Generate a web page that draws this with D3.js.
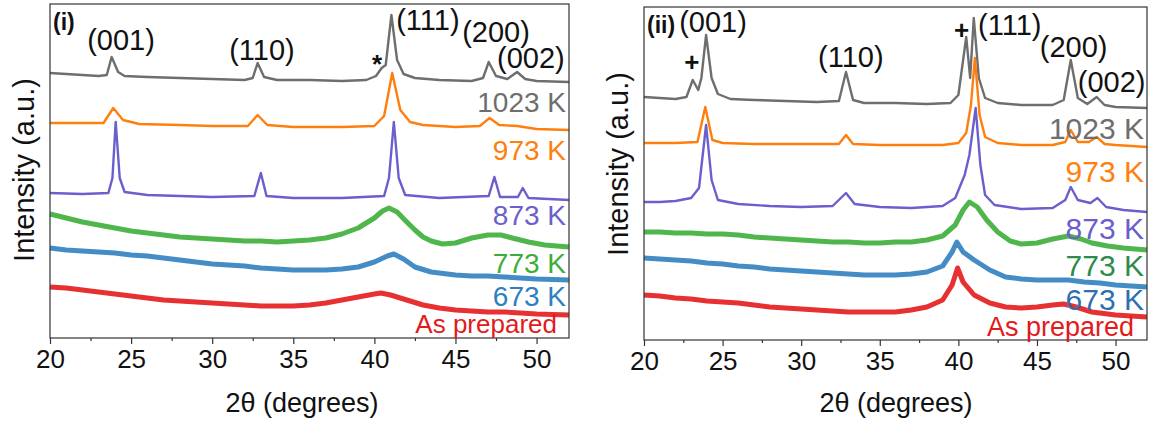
<!DOCTYPE html>
<html>
<head>
<meta charset="utf-8">
<script src="https://cdn.jsdelivr.net/npm/d3@7"></script>
<style>
  body { margin: 0; background: #fff; }
  svg { font-family: Arial, "Liberation Sans", sans-serif; }
</style>
</head>
<body>
<script>
// 2theta (deg) vs intensity (a.u., offset stacked)
const xTicks = [20, 25, 30, 35, 40, 45, 50];
const xMinor = [22.5, 27.5, 32.5, 37.5, 42.5, 47.5];
const sampleNames = ["1023 K", "973 K", "873 K", "773 K", "673 K", "As prepared"];
const colors = ["#6e6e6e", "#ff7f0e", "#6a5fcd", "#3cae37", "#2f7fc0", "#e31a1c"];

// panel (i)
const left1023 = [[20,265],[21,264],[22,263],[23,262],[23.5,263],[23.8,281],[24.2,266],[24.6,262],[26,261],[28,260],[30,259],[32,258],[32.5,260],[32.8,275],[33.2,261],[34,258],[36,258],[38,257],[39.5,258],[40.1,262],[40.45,270],[40.7,273],[41.05,323],[41.4,278],[41.8,264],[42.5,260],[44,258],[46,257],[46.7,260],[47.05,276],[47.5,262],[48.2,259],[48.8,266],[49.3,259],[50,257],[52,256]];
const left973 = [[20,215],[22,215],[23.3,215],[23.9,230],[24.5,218],[25.5,214],[28,213],[30,212],[32.2,212],[32.8,223],[33.4,213],[35,211],[38,211],[40,212],[40.6,222],[41.1,265],[41.6,228],[42.2,216],[43,213],[45,211],[46.5,212],[47.1,220],[47.7,213],[48.8,212],[50,209],[52,208]];
const left873 = [[20,145],[22,144],[23.6,145],[23.85,160],[24.05,216],[24.3,160],[24.6,146],[26,143],[28,142],[30,141],[32.6,142],[33.0,165],[33.35,142],[35,140],[38,140],[40.6,142],[40.9,160],[41.2,216],[41.5,160],[41.9,143],[44,140],[47.05,142],[47.4,161],[47.75,141],[48.85,141],[49.15,150],[49.5,140],[52,138]];
const left773 = [[20,124],[21,120],[22,116],[23,113],[24,110],[25,107],[26,105],[27,103],[28,101],[29,100],[30,99],[31,98],[32,97],[33,97],[34,96],[35,97],[36,98],[37,100],[38,104],[39,110],[40,120],[40.5,127],[40.9,130],[41.4,126],[42,116],[42.5,108],[43,101],[43.5,97],[44.2,94],[45,95],[46,100],[47,103],[47.8,103],[48.5,100],[49.5,96],[50.5,93],[52,91]];
const left673 = [[20,90],[21,88],[22,87],[23,86],[24,85],[25,83],[26,82],[27,80],[28,78],[29,76],[30,74],[31,73],[32,72],[33,70],[34,69],[35,68],[36,68],[37,68],[38,69],[39,71],[40,76],[40.8,82],[41.2,84],[41.8,79],[42.5,71],[43.5,66],[45,63],[46,62],[47,62],[48,61],[49,60],[50,59],[52,58]];
const leftPrep = [[20,51],[21,50],[22,48],[23,46],[24,44],[25,42],[26,40],[27,38],[28,37],[29,36],[30,35],[31,34],[32,33],[33,32],[34,32],[35,32],[36,33],[37,35],[38,38],[39,41],[40,44],[40.4,45],[41,43],[42,38],[43,33],[44,30],[45,28],[46,27],[47,26],[48,26],[49,25],[50,24],[52,23]];

// panel (ii)
const right1023 = [[20,243],[21,242],[22,241],[22.7,243],[23.1,260],[23.45,250],[23.65,262],[23.95,305],[24.3,262],[24.7,246],[25.5,241],[27,240],[29,239],[31,238],[32.4,239],[32.85,268],[33.3,240],[34,237],[36,237],[38,236],[39.5,237],[40.0,245],[40.5,303],[40.75,262],[40.98,322],[41.3,262],[41.7,242],[42.5,237],[44,235],[46,235],[46.7,240],[47.15,280],[47.6,242],[48.2,236],[48.8,243],[49.3,235],[50,233],[52,232]];
const right973 = [[20,197],[22,197],[23.4,198],[23.9,233],[24.35,200],[25,197],[27,196],[29,196],[31,196],[32.4,196],[32.85,205],[33.3,196],[35,195],[37,195],[39,195],[40,197],[40.5,207],[40.8,235],[41.05,282],[41.35,225],[41.7,203],[42.5,197],[44,195],[46,195],[46.8,198],[47.15,210],[47.6,198],[48.3,198],[48.8,203],[49.3,196],[50,195],[52,193]];
const right873 = [[20,138],[21,138],[22,139],[23,142],[23.5,152],[23.95,215],[24.3,160],[24.7,140],[26,136],[28,134],[30,133],[32,134],[32.85,147],[33.4,136],[35,133],[37,132],[39,134],[39.8,142],[40.4,165],[40.7,185],[41.1,232],[41.4,175],[41.7,145],[42.3,135],[44,131],[46,132],[46.8,140],[47.15,153],[47.6,140],[48.4,137],[48.85,142],[49.4,133],[50.5,130],[52,128]];
const right773 = [[20,108],[21,108],[22,107],[23,107],[24,106],[25,106],[26,105],[27,103],[28,102],[29,101],[30,100],[31,99],[32,98],[33,98],[34,97],[35,97],[36,98],[37,98],[38,100],[39,104],[39.8,115],[40.3,130],[40.7,138],[41.2,133],[41.8,120],[42.5,108],[43.3,99],[44,96],[45,97],[46,101],[47,104],[47.8,101],[48.5,97],[49.5,94],[50.5,92],[52,90]];
const right673 = [[20,82],[21,81],[22,80],[23,79],[24,77],[25,76],[26,74],[27,73],[28,71],[29,70],[30,69],[31,68],[32,67],[33,66],[34,65],[35,65],[36,65],[37,66],[38,68],[39,74],[39.6,88],[39.9,98],[40.3,88],[41,80],[42,70],[43,63],[44,61],[45,60],[46,60],[47,60],[48,58],[49,57],[50,55],[52,53]];
const rightPrep = [[20,45],[21,44],[22,42],[23,41],[24,39],[25,38],[26,37],[27,35],[28,33],[29,32],[30,31],[31,30],[32,29],[33,28],[34,28],[35,28],[36,28],[37,30],[38,33],[39,40],[39.6,55],[39.95,72],[40.3,58],[41,45],[42,37],[43,33],[44,32],[45,33],[46,35],[46.7,36],[47.5,33],[48.5,28],[50,25],[52,23]];

// peak annotations: [text, 2theta, intensity at text baseline]
const leftPeaks = [["(001)", 24.38, 288], ["(110)", 33.07, 278], ["*", 40.16, 265], ["(111)", 43.3, 308], ["(200)", 47.5, 296], ["(002)", 49.65, 270]];
const rightPeaks = [["(001)", 24.39, 308], ["+", 23.05, 269], ["(110)", 33.16, 273], ["+", 40.2, 301], ["(111)", 43.27, 305], ["(200)", 47.33, 283], ["(002)", 49.75, 248]];
// sample label baselines (intensity units)
const leftLabelY = [226, 178, 113, 65, 32, 5];
const rightLabelY = [201, 158, 101, 64, 30, 4];

const W = 1151, H = 421;
const svg = d3.select("body").append("svg").attr("width", W).attr("height", H);

function panel(cfg) {
  const x = d3.scaleLinear().domain([20, 52]).range([cfg.x0, cfg.x1]);
  const y = d3.scaleLinear().domain([0, 334]).range([cfg.y1, cfg.y1 - 334]);
  const g = svg.append("g");

  const line = d3.line().x(d => x(d[0])).y(d => y(d[1]));
  cfg.series.forEach((s, i) => {
    g.append("path")
      .datum(s)
      .attr("fill", "none")
      .attr("stroke", colors[i])
      .attr("stroke-width", i < 3 ? 2.4 : 5)
      .attr("stroke-linejoin", "round")
      .attr("stroke-opacity", i < 3 ? 1 : 0.9)
      .attr("d", line);
  });

  // frame
  g.append("rect")
    .attr("x", cfg.x0).attr("y", cfg.yTop)
    .attr("width", cfg.x1 - cfg.x0).attr("height", cfg.y1 - cfg.yTop)
    .attr("fill", "none").attr("stroke", "#333").attr("stroke-width", 1.2);

  const ax = g.append("g").attr("transform", `translate(0,${cfg.y1})`)
    .call(d3.axisBottom(x).tickValues(xTicks).tickSize(6).tickSizeOuter(0).tickPadding(6));
  ax.select(".domain").remove();
  ax.selectAll("line").attr("stroke", "#333").attr("stroke-width", 1.2);
  ax.selectAll("text").attr("font-size", 26).attr("fill", "#111");

  const mn = g.append("g").attr("transform", `translate(0,${cfg.y1})`)
    .call(d3.axisBottom(x).tickValues(xMinor).tickSize(3).tickFormat(""));
  mn.select(".domain").remove();
  mn.selectAll("line").attr("stroke", "#333").attr("stroke-width", 1.2);

  g.append("text")
    .attr("x", cfg.x0 + 252).attr("y", 412)
    .attr("text-anchor", "middle").attr("font-size", 27).attr("fill", "#111")
    .text("2θ (degrees)");

  g.append("text")
    .attr("transform", `translate(${cfg.x0 - 16},${cfg.yMid}) rotate(-90)`)
    .attr("text-anchor", "middle").attr("font-size", 29).attr("fill", "#111")
    .text("Intensity (a.u.)");

  g.append("text")
    .attr("x", cfg.x0 + 3).attr("y", cfg.yTop + 26)
    .attr("font-size", 23).attr("font-weight", "bold").attr("fill", "#111")
    .text(cfg.tag);

  cfg.peaks.forEach(p => {
    g.append("text")
      .attr("x", x(p[1])).attr("y", y(p[2]))
      .attr("text-anchor", "middle")
      .attr("font-size", p[0].length === 1 ? 26 : 29)
      .attr("font-weight", p[0].length === 1 ? "bold" : "normal")
      .attr("fill", "#111")
      .text(p[0]);
  });

  sampleNames.forEach((n, i) => {
    const last = i === 5;
    g.append("text")
      .attr("x", last ? cfg.prepEnd : cfg.x1 - 3).attr("y", y(cfg.labelY[i]))
      .attr("text-anchor", "end").attr("font-size", last ? cfg.prepFs : cfg.fs)
      .attr("fill", cfg.labelColors[i])
      .text(n);
  });
}

panel({
  x0: 50, x1: 569, yTop: 4, y1: 338, yMid: 170, tag: "(i)", fs: 28,
  prepEnd: 557, prepFs: 26,
  series: [left1023, left973, left873, left773, left673, leftPrep],
  peaks: leftPeaks, labelY: leftLabelY,
  labelColors: ["#6e6e6e", "#ff7f0e", "#6a5fcd", "#3cae37", "#2f7fc0", "#e31a1c"]
});

panel({
  x0: 644, x1: 1147, yTop: 7, y1: 340, yMid: 164, tag: "(ii)", fs: 30,
  prepEnd: 1134, prepFs: 27,
  series: [right1023, right973, right873, right773, right673, rightPrep],
  peaks: rightPeaks, labelY: rightLabelY,
  labelColors: ["#6e6e6e", "#ff7f0e", "#6a5fcd", "#2e8b4a", "#2f6fb0", "#e31a1c"]
});
</script>
</body>
</html>
